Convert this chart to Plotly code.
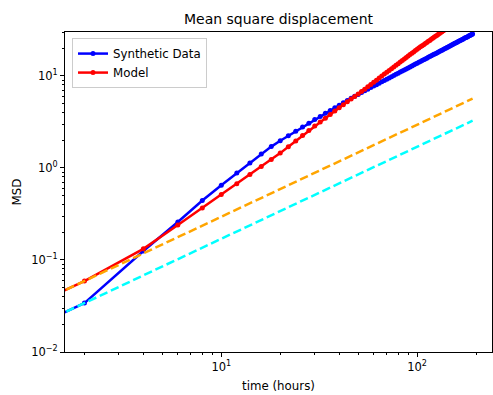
import numpy as np
import plotly.graph_objects as go

# sampling times (hours)
time_hours = list(range(2, 194, 2))

# measured mean square displacement of the synthetic tracks
synthetic_msd = [
    0.034, 0.125, 0.259, 0.442, 0.650, 0.883, 1.132, 1.413, 1.706, 1.972,
    2.233, 2.500, 2.780, 3.062, 3.350, 3.631, 3.917, 4.217, 4.519, 4.808,
    5.097, 5.395, 5.702, 5.998, 6.295, 6.607, 6.887, 7.178, 7.464, 7.745,
    8.035, 8.337, 8.630, 8.933, 9.204, 9.506, 9.795, 10.12, 10.40, 10.69,
    11.02, 11.30, 11.59, 11.89, 12.22, 12.53, 12.82, 13.12, 13.43, 13.74,
    14.06, 14.36, 14.66, 14.96, 15.28, 15.60, 15.92, 16.22, 16.56, 16.87,
    17.14, 17.46, 17.78, 18.11, 18.45, 18.79, 19.05, 19.41, 19.72, 20.04,
    20.32, 20.65, 20.99, 21.28, 21.63, 21.98, 22.34, 22.59, 22.96, 23.28,
    23.61, 23.93, 24.21, 24.55, 24.89, 25.23, 25.59, 25.94, 26.18, 26.55,
    26.85, 27.23, 27.54, 27.86, 28.25, 28.51,
]

# model prediction on the same time grid
model_msd = [
    0.059, 0.132, 0.240, 0.367, 0.513, 0.673, 0.847, 1.035, 1.236, 1.449,
    1.698, 1.968, 2.254, 2.547, 2.851, 3.162, 3.475, 3.811, 4.169, 4.519,
    4.864, 5.224, 5.610, 5.984, 6.368, 6.761, 7.178, 7.621, 8.054, 8.511,
    8.974, 9.462, 9.954, 10.47, 10.94, 11.43, 11.97, 12.50, 13.03, 13.58,
    14.16, 14.69, 15.24, 15.81, 16.44, 17.06, 17.62, 18.24, 18.88, 19.50,
    20.12, 20.68, 21.26, 21.86, 22.47, 23.10, 23.74, 24.32, 25.00, 25.62,
    26.24, 26.89, 27.54, 28.21, 28.91, 29.62, 30.24, 30.97, 31.62, 32.28,
    32.96, 33.65, 34.36, 35.08, 35.81, 36.56, 37.33, 37.98, 38.78, 39.45,
    40.27, 40.98, 41.69, 42.42, 43.15, 44.06, 44.83, 45.60, 46.24, 47.04,
    47.86, 48.70, 49.55, 50.23, 51.11, 51.82,
]

# linear (slope 1) reference lines
ref_time = [2, 192]
ref_model = [0.059, 5.66]
ref_synthetic = [0.034, 3.26]

x_tick_vals = [10, 100]
x_tick_text = ["10<sup>1</sup>", "10<sup>2</sup>"]
y_tick_vals = [0.01, 0.1, 1, 10]
y_tick_text = ["10<sup>\u22122</sup>", "10<sup>\u22121</sup>", "10<sup>0</sup>", "10<sup>1</sup>"]

# log-space x limits with a 5% margin on each side of the data
lo, hi = np.log10(min(time_hours)), np.log10(max(time_hours))
pad = 0.05 * (hi - lo)
x_range = [lo - pad, hi + pad]
y_range = [-2, np.log10(30)]

# a zero-time sample on a log axis runs off to the left with unit slope
x_edge = 10 ** (x_range[0] - 0.05)


def lead_in(t, y):
    return [x_edge, t[0]], [y[0] * x_edge / t[0], y[0]]


FONT = "DejaVu Sans"
fig = go.Figure()

for name, vals, color in [("Synthetic Data", synthetic_msd, "#0000ff"),
                          ("Model", model_msd, "#ff0000")]:
    ex, ey = lead_in(time_hours, vals)
    fig.add_trace(go.Scatter(x=ex, y=ey, mode="lines", showlegend=False,
                             hoverinfo="skip",
                             line=dict(color=color, width=2.5)))
    fig.add_trace(go.Scatter(x=time_hours, y=vals, mode="lines+markers",
                             name=name,
                             line=dict(color=color, width=2.5),
                             marker=dict(color=color, size=5)))

for vals, color in [(ref_model, "#ffa500"), (ref_synthetic, "#00ffff")]:
    ex, ey = lead_in(ref_time, vals)
    fig.add_trace(go.Scatter(x=[ex[0]] + ref_time, y=[ey[0]] + vals,
                             mode="lines", showlegend=False,
                             line=dict(color=color, width=2.5, dash="8.5px,3.8px")))


def minor_vals(decades, upper):
    out = []
    for d in decades:
        for k in range(2, 10):
            v = k * d
            if v <= upper:
                out.append(v)
    return out


axis_common = dict(
    type="log", showline=True, linecolor="black", linewidth=1, mirror=True,
    ticks="outside", ticklen=4, tickwidth=1, tickcolor="black",
    showgrid=False, zeroline=False, tickmode="array",
    tickfont=dict(family=FONT, size=11.5, color="black"),
)

fig.update_xaxes(
    **axis_common, range=x_range,
    tickvals=x_tick_vals, ticktext=x_tick_text,
    minor=dict(tickmode="array", tickvals=minor_vals([1, 10, 100], 10 ** x_range[1]),
               ticks="outside", ticklen=2.4, tickwidth=0.9, tickcolor="black",
               showgrid=False),
    title=dict(text="time (hours)", font=dict(family=FONT, size=11.8, color="black"),
               standoff=8),
)
fig.update_yaxes(
    **axis_common, range=y_range,
    tickvals=y_tick_vals, ticktext=y_tick_text,
    minor=dict(tickmode="array", tickvals=minor_vals([0.01, 0.1, 1, 10], 30),
               ticks="outside", ticklen=2.4, tickwidth=0.9, tickcolor="black",
               showgrid=False),
    title=dict(text="MSD", font=dict(family=FONT, size=11.8, color="black"),
               standoff=7),
)

fig.update_layout(
    width=493, height=395,
    margin=dict(l=65, r=1, t=32, b=43),
    paper_bgcolor="white", plot_bgcolor="white",
    font=dict(family=FONT, color="black"),
    title=dict(text="Mean square displacement", x=(65 + 492) / 2 / 493,
               xanchor="center", y=1 - 19 / 395, yanchor="middle",
               font=dict(family=FONT, size=14, color="black")),
    legend=dict(x=0.0164, y=0.981, xanchor="left", yanchor="top",
                bgcolor="white", bordercolor="#cccccc", borderwidth=1,
                font=dict(family=FONT, size=11.8, color="black"),
                tracegroupgap=0),
    showlegend=True,
)

fig.write_html("out.html")
